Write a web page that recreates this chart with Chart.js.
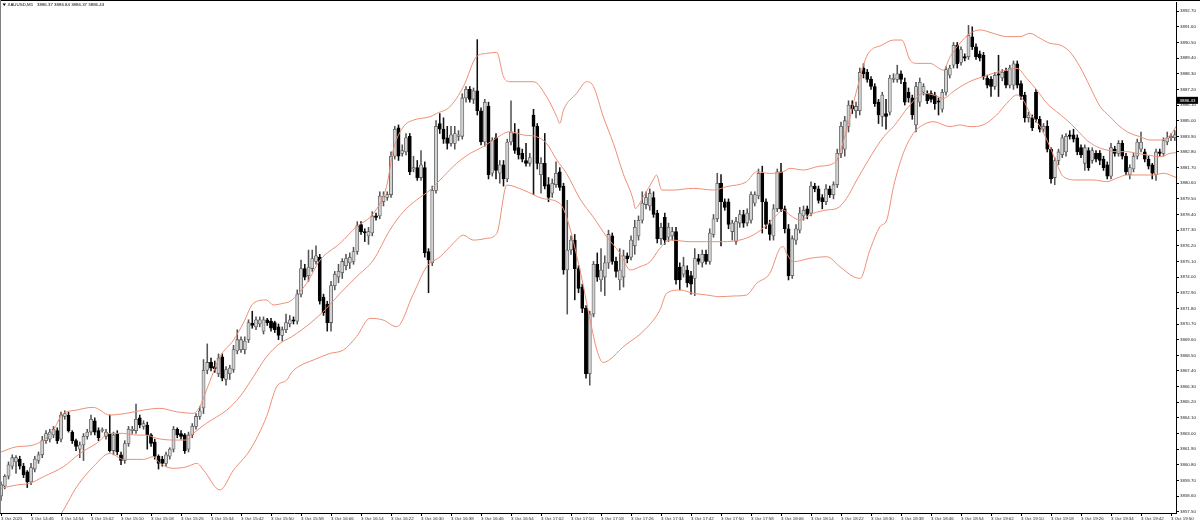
<!DOCTYPE html>
<html>
<head>
<meta charset="utf-8">
<title>XAUUSD,M1</title>
<script src="https://cdn.jsdelivr.net/npm/chart.js@4.4.1/dist/chart.umd.min.js"></script>
<style>
  html, body { margin: 0; padding: 0; background: #fff; }
  #wrap { width: 1200px; height: 525px; }
</style>
</head>
<body>
<div id="wrap"><canvas id="chart" width="1200" height="525"></canvas></div>
<script>
// XAUUSD M1 candles with Bollinger bands

const symbolName = 'XAUUSD,M1';
const headerValues = [3886.37, 3886.84, 3886.37, 3886.43];

const xTickIdx = [0, 8, 16, 24, 32, 40, 48, 56, 64, 72, 80, 88, 96, 104, 112, 120, 128, 136, 144, 152,
    160, 168, 176, 184, 192, 200, 208, 216, 224, 232, 240, 248, 256, 264, 272, 280, 288, 296, 304, 312];
const xTickLabels = ['3 Oct 2025', '3 Oct 14:46', '3 Oct 14:54', '3 Oct 15:02', '3 Oct 15:10', '3 Oct 15:18',
    '3 Oct 15:26', '3 Oct 15:34', '3 Oct 15:42', '3 Oct 15:50', '3 Oct 15:58', '3 Oct 16:06', '3 Oct 16:14',
    '3 Oct 16:22', '3 Oct 16:30', '3 Oct 16:38', '3 Oct 16:46', '3 Oct 16:54', '3 Oct 17:02', '3 Oct 17:10',
    '3 Oct 17:18', '3 Oct 17:26', '3 Oct 17:34', '3 Oct 17:42', '3 Oct 17:50', '3 Oct 17:58', '3 Oct 18:06',
    '3 Oct 18:14', '3 Oct 18:22', '3 Oct 18:30', '3 Oct 18:38', '3 Oct 18:46', '3 Oct 18:54', '3 Oct 19:02',
    '3 Oct 19:10', '3 Oct 19:18', '3 Oct 19:26', '3 Oct 19:34', '3 Oct 19:42', '3 Oct 19:50'];

const yTicks = [3857.50, 3858.60, 3859.70, 3860.80, 3861.90, 3863.00, 3864.10, 3865.20, 3866.30, 3867.40,
    3868.50, 3869.60, 3870.70, 3871.80, 3872.90, 3874.00, 3875.10, 3876.20, 3877.30, 3878.40, 3879.50,
    3880.60, 3881.70, 3882.80, 3883.90, 3885.00, 3886.10, 3887.20, 3888.30, 3889.40, 3890.50, 3891.60, 3892.70];

const opens = [
    3858.6, 3859.3, 3860.0, 3860.7, 3861.0, 3861.2, 3860.7, 3860.3, 3859.6, 3860.5,
    3861.1, 3861.5, 3862.5, 3862.6, 3862.9, 3863.2, 3862.6, 3864.2, 3864.3, 3863.1,
    3862.5, 3861.9, 3862.2, 3862.8, 3863.1, 3863.9, 3863.2, 3863.2, 3862.8, 3863.0,
    3861.8, 3863.0, 3861.5, 3861.1, 3862.3, 3863.2, 3863.2, 3864.1, 3863.5, 3863.6,
    3862.9, 3862.4, 3861.4, 3861.2, 3860.9, 3861.4, 3861.9, 3863.3, 3863.0, 3862.9,
    3861.9, 3862.9, 3863.5, 3864.2, 3864.8, 3867.45, 3868.0, 3867.7, 3867.2, 3868.4,
    3866.8, 3867.2, 3867.5, 3868.8, 3868.9, 3868.9, 3869.6, 3870.75, 3870.5, 3870.7,
    3870.2, 3871.0, 3870.9, 3870.8, 3870.5, 3869.9, 3870.3, 3870.7, 3871.0, 3870.9,
    3872.8, 3874.6, 3874.1, 3874.6, 3875.1, 3875.4, 3872.6, 3872.1, 3870.8, 3873.4,
    3874.0, 3874.3, 3874.8, 3875.0, 3875.1, 3875.8, 3877.7, 3877.2, 3876.9, 3877.1,
    3878.3, 3878.3, 3879.3, 3879.6, 3879.8, 3882.5, 3884.5, 3882.7, 3882.8, 3883.9,
    3881.6, 3881.7, 3881.0, 3881.7, 3875.8, 3875.0, 3880.1, 3884.8, 3884.4, 3883.8,
    3883.4, 3883.4, 3883.9, 3883.9, 3886.6, 3887.2, 3886.5, 3887.1, 3885.7, 3883.5,
    3886.0, 3881.3, 3883.8, 3881.3, 3881.9, 3880.9, 3883.5, 3884.1, 3883.1, 3882.7,
    3882.2, 3882.0, 3885.4, 3884.6, 3881.2, 3882.0, 3880.5, 3879.9, 3880.5, 3881.4,
    3880.4, 3874.5, 3875.9, 3876.6, 3874.6, 3873.3, 3871.8, 3867.2, 3871.4, 3874.9,
    3873.8, 3874.0, 3875.0, 3876.9, 3875.1, 3873.8, 3874.0, 3875.5, 3875.4, 3876.2,
    3876.9, 3878.0, 3879.1, 3879.0, 3879.6, 3878.5, 3876.7, 3878.2, 3876.8, 3876.9,
    3877.2, 3874.7, 3874.2, 3874.5, 3874.1, 3873.9, 3875.3, 3875.0, 3875.6, 3875.1,
    3877.0, 3878.1, 3880.6, 3879.3, 3879.3, 3877.2, 3876.5, 3877.8, 3878.4, 3877.8,
    3878.0, 3879.2, 3879.7, 3881.3, 3879.3, 3877.7, 3876.9, 3878.8, 3881.4, 3878.8,
    3877.4, 3874.1, 3876.6, 3877.3, 3878.3, 3878.8, 3878.5, 3880.4, 3880.2, 3879.6,
    3879.3, 3880.2, 3879.8, 3880.5, 3882.7, 3883.0, 3884.6, 3886.1, 3885.7, 3885.7,
    3888.7, 3888.4, 3887.9, 3887.4, 3886.3, 3885.3, 3885.5, 3885.6, 3887.9, 3887.9,
    3888.3, 3887.7, 3887.0, 3886.6, 3884.7, 3886.3, 3887.0, 3886.9, 3886.9, 3886.8,
    3886.4, 3885.8, 3887.0, 3888.2, 3888.9, 3890.3, 3889.1, 3889.5, 3889.5, 3890.9,
    3890.2, 3889.7, 3889.6, 3888.0, 3887.9, 3887.4, 3888.3, 3888.0, 3888.5, 3887.5,
    3887.5, 3889.0, 3887.6, 3886.8, 3885.2, 3885.2, 3887.0, 3885.1, 3884.4, 3884.6,
    3883.0, 3881.0, 3882.2, 3882.6, 3882.8, 3884.0, 3884.0, 3883.8, 3883.1, 3882.0,
    3882.9, 3882.2, 3882.7, 3882.7, 3882.3, 3881.9, 3881.1, 3883.0, 3882.7, 3883.4,
    3882.5, 3881.2, 3881.6, 3882.5, 3883.0, 3882.8, 3882.3, 3881.9, 3881.2, 3882.8,
    3882.7, 3883.5, 3883.8, 3883.8
];

const highs = [
    3859.6, 3860.1, 3861.0, 3861.5, 3861.45, 3861.4, 3860.9, 3860.4, 3860.9, 3861.4,
    3861.7, 3862.8, 3863.2, 3863.3, 3863.5, 3863.4, 3864.5, 3864.6, 3864.5, 3863.2,
    3862.6, 3862.4, 3863.0, 3863.3, 3864.3, 3864.1, 3863.4, 3863.4, 3863.3, 3864.3,
    3863.1, 3863.2, 3861.7, 3862.5, 3863.5, 3863.5, 3865.07, 3864.3, 3863.9, 3863.8,
    3863.0, 3862.6, 3861.5, 3861.4, 3861.7, 3862.0, 3863.5, 3863.4, 3863.2, 3863.0,
    3863.1, 3863.7, 3864.4, 3864.9, 3868.2, 3869.3, 3868.3, 3868.1, 3868.6, 3868.6,
    3867.7, 3867.8, 3869.2, 3870.3, 3869.8, 3869.8, 3871.0, 3871.6, 3871.2, 3871.2,
    3871.2, 3871.1, 3871.1, 3870.9, 3870.7, 3870.5, 3871.4, 3871.3, 3871.2, 3873.1,
    3875.2, 3874.9, 3875.9, 3875.9, 3876.2, 3875.6, 3872.8, 3872.3, 3873.7, 3874.4,
    3874.9, 3875.3, 3875.6, 3875.7, 3876.1, 3877.9, 3877.9, 3877.4, 3877.5, 3878.6,
    3878.5, 3880.0, 3880.0, 3880.0, 3882.8, 3884.6, 3884.7, 3883.3, 3884.1, 3884.1,
    3882.5, 3882.2, 3882.9, 3882.1, 3876.0, 3880.4, 3885.0, 3885.5, 3885.2, 3884.6,
    3884.6, 3884.6, 3884.3, 3886.9, 3887.4, 3887.4, 3887.3, 3890.7, 3885.9, 3886.5,
    3886.3, 3883.8, 3884.1, 3882.2, 3882.2, 3883.7, 3886.4, 3884.8, 3884.4, 3883.0,
    3883.4, 3882.7, 3885.8, 3884.8, 3882.4, 3884.1, 3881.0, 3880.9, 3882.1, 3881.7,
    3880.6, 3879.4, 3876.9, 3877.0, 3874.8, 3873.5, 3872.0, 3871.6, 3875.1, 3875.7,
    3876.0, 3875.5, 3877.3, 3877.1, 3875.4, 3876.0, 3875.9, 3875.7, 3876.9, 3878.0,
    3878.3, 3880.0, 3880.0, 3880.2, 3880.0, 3878.7, 3877.8, 3878.5, 3877.8, 3877.5,
    3877.5, 3875.0, 3875.4, 3874.8, 3874.4, 3876.0, 3875.6, 3875.9, 3875.9, 3877.4,
    3878.4, 3881.3, 3881.2, 3879.5, 3879.5, 3878.0, 3878.2, 3878.7, 3878.7, 3878.8,
    3880.0, 3880.0, 3881.6, 3881.8, 3879.5, 3878.0, 3879.1, 3881.6, 3882.0, 3879.0,
    3877.7, 3876.9, 3877.7, 3878.9, 3879.0, 3879.0, 3880.7, 3880.6, 3880.4, 3879.8,
    3880.5, 3880.4, 3880.7, 3883.0, 3884.9, 3885.3, 3886.4, 3886.4, 3886.3, 3888.7,
    3889.0, 3888.6, 3888.1, 3887.6, 3886.5, 3887.0, 3886.5, 3888.2, 3888.3, 3888.9,
    3888.5, 3888.0, 3887.3, 3886.8, 3887.7, 3888.0, 3887.6, 3887.1, 3887.1, 3887.0,
    3886.6, 3887.2, 3888.8, 3888.9, 3890.5, 3890.5, 3890.2, 3889.7, 3891.7, 3891.6,
    3890.4, 3889.9, 3889.8, 3888.2, 3888.1, 3888.4, 3889.6, 3888.6, 3888.7, 3888.9,
    3889.2, 3889.2, 3887.8, 3887.0, 3885.6, 3885.4, 3887.2, 3885.3, 3884.8, 3885.0,
    3883.1, 3882.4, 3883.0, 3884.0, 3884.1, 3884.3, 3884.4, 3884.0, 3883.3, 3883.3,
    3883.1, 3883.1, 3882.9, 3882.9, 3882.5, 3882.1, 3883.4, 3883.2, 3883.6, 3883.6,
    3882.7, 3881.9, 3882.7, 3883.7, 3884.2, 3883.0, 3882.5, 3882.0, 3883.0, 3883.0,
    3883.8, 3884.2, 3884.1, 3884.3
];

const lows = [
    3858.3, 3859.1, 3859.8, 3860.5, 3860.2, 3860.5, 3859.9, 3859.2, 3859.4, 3860.3,
    3860.9, 3861.3, 3862.3, 3862.4, 3862.7, 3862.3, 3862.4, 3864.0, 3863.1, 3862.3,
    3861.8, 3861.3, 3861.1, 3862.6, 3862.9, 3862.9, 3862.5, 3863.1, 3862.6, 3861.7,
    3861.5, 3861.5, 3860.8, 3860.9, 3862.1, 3863.0, 3863.0, 3863.4, 3863.3, 3861.9,
    3862.1, 3861.2, 3860.5, 3860.7, 3860.7, 3861.2, 3861.7, 3862.7, 3862.6, 3861.6,
    3861.7, 3862.7, 3863.3, 3864.0, 3864.4, 3867.2, 3867.4, 3867.3, 3867.0, 3866.7,
    3866.4, 3866.8, 3867.3, 3868.6, 3868.7, 3868.6, 3869.4, 3870.4, 3870.3, 3870.5,
    3870.0, 3870.6, 3870.2, 3870.1, 3869.6, 3869.5, 3870.1, 3870.5, 3870.7, 3870.7,
    3872.6, 3873.8, 3873.7, 3874.4, 3874.9, 3872.1, 3871.3, 3870.2, 3870.2, 3873.1,
    3873.6, 3873.9, 3874.5, 3874.6, 3874.9, 3875.6, 3877.0, 3876.5, 3876.3, 3876.9,
    3878.0, 3878.1, 3879.0, 3879.4, 3879.6, 3882.3, 3882.2, 3882.5, 3882.6, 3881.2,
    3881.4, 3880.8, 3880.8, 3875.4, 3872.9, 3874.8, 3879.9, 3884.1, 3883.4, 3883.0,
    3883.2, 3883.0, 3883.6, 3883.7, 3886.3, 3886.3, 3886.2, 3885.4, 3883.3, 3883.2,
    3880.9, 3881.1, 3880.9, 3880.6, 3880.4, 3880.7, 3883.3, 3882.7, 3882.3, 3882.1,
    3881.8, 3881.8, 3879.8, 3881.6, 3879.9, 3880.2, 3879.3, 3879.6, 3880.3, 3880.1,
    3874.2, 3871.4, 3875.6, 3872.4, 3872.9, 3871.5, 3866.9, 3866.4, 3871.2, 3873.7,
    3873.0, 3872.7, 3874.6, 3874.9, 3874.0, 3873.1, 3873.3, 3875.0, 3875.2, 3875.6,
    3876.6, 3877.8, 3878.8, 3878.7, 3878.2, 3876.4, 3876.3, 3876.3, 3876.5, 3876.6,
    3873.5, 3873.1, 3874.0, 3873.3, 3872.8, 3872.7, 3874.9, 3874.7, 3874.9, 3874.9,
    3876.8, 3877.9, 3876.2, 3878.7, 3877.4, 3876.6, 3876.3, 3877.5, 3877.5, 3877.6,
    3877.8, 3879.0, 3879.5, 3877.1, 3877.4, 3876.6, 3876.6, 3878.6, 3878.6, 3877.1,
    3873.8, 3873.9, 3876.3, 3877.1, 3878.0, 3878.1, 3878.3, 3880.0, 3879.2, 3878.8,
    3879.1, 3879.6, 3879.5, 3880.3, 3882.4, 3882.5, 3884.2, 3885.5, 3885.2, 3885.4,
    3888.0, 3887.7, 3887.2, 3886.0, 3884.8, 3884.6, 3884.4, 3885.4, 3887.7, 3887.7,
    3887.6, 3886.1, 3886.3, 3885.1, 3884.2, 3886.0, 3886.8, 3886.2, 3886.3, 3885.8,
    3885.4, 3885.6, 3886.8, 3888.0, 3888.7, 3888.7, 3888.9, 3889.2, 3889.3, 3890.0,
    3889.3, 3889.2, 3887.9, 3887.3, 3886.7, 3887.2, 3886.7, 3887.8, 3887.3, 3887.3,
    3887.2, 3887.3, 3886.5, 3884.9, 3884.9, 3884.3, 3884.9, 3884.2, 3884.2, 3882.8,
    3880.6, 3880.5, 3881.9, 3882.4, 3882.5, 3883.7, 3883.5, 3882.6, 3882.4, 3881.5,
    3881.5, 3882.0, 3882.1, 3881.9, 3881.5, 3880.9, 3880.9, 3882.5, 3882.5, 3882.3,
    3881.2, 3880.9, 3881.4, 3882.3, 3882.8, 3882.1, 3881.6, 3880.9, 3880.8, 3882.5,
    3882.5, 3883.3, 3883.6, 3883.6
];

const closes = [
    3859.4, 3860.0, 3860.8, 3861.3, 3861.3, 3860.7, 3860.1, 3859.6, 3860.6, 3861.2,
    3861.5, 3862.5, 3863.0, 3863.1, 3863.3, 3862.5, 3864.3, 3864.4, 3863.2, 3862.5,
    3862.1, 3862.2, 3862.8, 3863.1, 3864.0, 3863.1, 3862.7, 3863.25, 3863.1, 3861.8,
    3862.9, 3861.7, 3861.1, 3862.3, 3863.3, 3863.3, 3864.0, 3863.6, 3863.7, 3862.9,
    3862.3, 3861.4, 3860.9, 3860.9, 3861.5, 3861.9, 3863.3, 3862.9, 3862.8, 3861.8,
    3862.9, 3863.5, 3864.2, 3864.6, 3867.45, 3868.0, 3867.6, 3867.55, 3868.3, 3866.9,
    3867.5, 3867.6, 3868.9, 3869.6, 3869.6, 3869.5, 3870.8, 3870.6, 3871.0, 3871.0,
    3871.0, 3870.8, 3870.4, 3870.3, 3869.9, 3870.3, 3870.8, 3871.0, 3870.9, 3872.8,
    3874.6, 3874.0, 3874.7, 3875.3, 3875.5, 3872.3, 3871.5, 3870.8, 3873.4, 3874.2,
    3874.4, 3875.1, 3875.3, 3875.4, 3875.8, 3877.6, 3877.2, 3877.1, 3877.2, 3878.3,
    3878.2, 3879.7, 3879.7, 3879.8, 3882.5, 3884.4, 3882.5, 3882.9, 3883.8, 3881.4,
    3881.7, 3881.0, 3881.9, 3875.7, 3875.2, 3880.1, 3884.6, 3884.4, 3883.7, 3883.4,
    3884.0, 3884.1, 3884.0, 3886.6, 3887.2, 3886.5, 3887.1, 3885.7, 3883.5, 3886.3,
    3881.2, 3883.6, 3881.5, 3881.9, 3880.9, 3883.5, 3884.2, 3882.9, 3882.6, 3882.3,
    3882.0, 3882.4, 3884.6, 3882.0, 3882.0, 3880.4, 3879.6, 3880.6, 3881.3, 3880.3,
    3874.5, 3875.9, 3876.6, 3874.6, 3873.2, 3871.8, 3867.2, 3871.4, 3874.9, 3874.0,
    3874.5, 3875.0, 3877.0, 3875.1, 3874.4, 3874.5, 3875.5, 3875.3, 3876.6, 3877.5,
    3878.0, 3879.2, 3879.6, 3879.9, 3878.4, 3876.7, 3877.5, 3876.6, 3877.5, 3877.2,
    3873.8, 3873.8, 3874.8, 3873.6, 3873.5, 3875.3, 3875.1, 3875.6, 3875.1, 3877.1,
    3878.1, 3880.6, 3879.3, 3878.9, 3877.7, 3877.8, 3877.9, 3878.4, 3877.8, 3878.5,
    3879.8, 3879.8, 3881.3, 3879.3, 3877.7, 3877.0, 3878.8, 3881.4, 3878.8, 3877.4,
    3874.1, 3876.7, 3877.4, 3878.5, 3878.7, 3878.4, 3880.4, 3880.2, 3879.4, 3879.3,
    3880.2, 3879.8, 3880.5, 3882.7, 3884.6, 3885.0, 3886.1, 3885.8, 3886.0, 3888.4,
    3888.3, 3887.9, 3887.4, 3886.2, 3885.4, 3886.8, 3885.3, 3888.0, 3888.0, 3888.3,
    3887.9, 3886.3, 3886.6, 3885.4, 3887.4, 3887.7, 3887.4, 3886.4, 3886.5, 3886.2,
    3886.3, 3887.0, 3888.6, 3888.7, 3890.3, 3889.0, 3890.0, 3889.4, 3891.0, 3890.2,
    3889.5, 3889.4, 3888.1, 3887.5, 3887.4, 3888.2, 3888.2, 3888.4, 3887.5, 3888.7,
    3889.0, 3887.5, 3886.7, 3885.2, 3885.4, 3884.5, 3885.1, 3884.4, 3884.6, 3883.0,
    3880.9, 3882.2, 3882.8, 3883.8, 3883.9, 3883.9, 3883.7, 3882.8, 3882.6, 3883.1,
    3881.7, 3882.9, 3882.3, 3882.2, 3881.7, 3881.1, 3883.1, 3882.7, 3883.4, 3882.5,
    3881.4, 3881.7, 3882.5, 3883.5, 3883.5, 3882.3, 3881.8, 3881.3, 3882.8, 3882.7,
    3883.6, 3883.8, 3883.9, 3884.0
];

// Bollinger band lines, read as [candle index, price] points
const upperBand = [[0, 3861.7], [4.2, 3862.07], [8.6, 3862.19], [14, 3863.25], [16.2, 3864.3], [20.2, 3864.65],
    [24.6, 3864.84], [29, 3864.3], [33.5, 3864.42], [38, 3864.65], [42.4, 3864.77], [46.8, 3864.53],
    [51.3, 3864.42], [53, 3864.88], [54.8, 3866.06], [58.4, 3868.4], [62, 3869.57], [64.6, 3870.75],
    [67.3, 3872.16], [70.8, 3872.39], [72.6, 3872.04], [75.3, 3872.16], [77.1, 3872.3], [81.5, 3873.56],
    [85.1, 3875.2], [90.4, 3876.37], [94.8, 3877.54], [99.3, 3878.48], [102.8, 3880.35], [104.6, 3882.93],
    [107.3, 3884.57], [110, 3885.04], [114.4, 3885.28], [116.2, 3885.51], [119.7, 3885.98], [123.3, 3887.39],
    [126.8, 3889.5], [129.5, 3889.73], [132.2, 3889.8], [134, 3888.09], [135.7, 3887.74], [142, 3887.74],
    [145.5, 3886.68], [148.2, 3885.28], [149, 3884.81], [150, 3885.75], [153.5, 3886.92], [156.2, 3887.74],
    [158, 3887.4], [160.6, 3885.28], [163.3, 3883.4], [165.9, 3881.29], [168.6, 3879.42], [169.1, 3878.83],
    [171.3, 3879.65], [173.9, 3880.83], [174.8, 3881.18], [176.2, 3880.12], [179.3, 3880.12], [184.6, 3880.24],
    [190, 3880.12], [193.5, 3880.36], [198.8, 3880.71], [201.5, 3881.41], [205, 3881.29], [208.6, 3881.41],
    [210.4, 3881.65], [214, 3881.53], [217.5, 3881.76], [222, 3882.0], [222.9, 3882.23], [225.5, 3884.34],
    [228.2, 3887.15], [230.8, 3889.5], [232.6, 3890.08], [234.4, 3890.25], [238, 3890.67], [240.2, 3890.67],
    [242.4, 3889.27], [244.2, 3889.03], [247.7, 3889.03], [251.3, 3888.56], [253.1, 3889.5], [255.7, 3890.44],
    [258.4, 3891.14], [261.1, 3891.38], [264.6, 3891.14], [268.2, 3890.91], [271.7, 3890.91], [274.4, 3891.14],
    [277.1, 3890.79], [279.7, 3890.44], [282.4, 3890.32], [285, 3889.85], [287.7, 3888.8], [290.4, 3887.39],
    [293.1, 3885.99], [295.7, 3885.28], [298.4, 3884.58], [301.1, 3884.11], [303.7, 3883.88], [306.4, 3883.64],
    [309.1, 3883.64], [311.7, 3883.95], [313.4, 3884.6]];

const middleBand = [[0, 3859.15], [4.2, 3859.38], [7.7, 3859.5], [11.3, 3859.96], [16.6, 3860.66], [21.1, 3861.61],
    [25.5, 3862.31], [29.1, 3863.01], [32.6, 3863.01], [36.2, 3862.89], [38.8, 3862.89], [41.5, 3862.66],
    [46, 3862.54], [49.5, 3862.54], [51.3, 3863.01], [54.8, 3863.72], [60.2, 3864.65], [63.7, 3865.59],
    [67.3, 3866.99], [70.8, 3868.4], [74.4, 3869.34], [77.5, 3869.8], [82.4, 3870.74], [86.8, 3871.8],
    [90.4, 3872.85], [94.8, 3874.02], [99.3, 3875.2], [103.7, 3877.31], [107.3, 3878.6], [110.8, 3879.42],
    [114.4, 3880.12], [117.9, 3881.06], [121.5, 3882.0], [125.1, 3882.7], [128.6, 3883.17], [131.3, 3883.64],
    [135.7, 3884.22], [139.3, 3883.99], [142.8, 3883.87], [145.5, 3883.4], [148.2, 3882.23], [150.8, 3881.29],
    [154.4, 3879.5], [158, 3878.2], [161.5, 3876.84], [165.1, 3875.67], [167.8, 3874.5], [170.4, 3874.73],
    [173.1, 3875.08], [175.7, 3876.02], [178.4, 3876.61], [183.7, 3876.49], [188.2, 3876.49], [192.6, 3876.49],
    [197.1, 3876.61], [200.6, 3876.96], [204.2, 3877.66], [206.8, 3878.36], [208.6, 3878.72], [210.4, 3878.36],
    [213, 3878.01], [216.6, 3878.48], [220.2, 3878.72], [222.9, 3878.83], [225.5, 3879.54], [228.2, 3880.83],
    [230.8, 3882.0], [233.5, 3883.17], [235.5, 3883.9], [238, 3884.58], [242.4, 3886.1], [246, 3886.92],
    [248.6, 3886.81], [251.3, 3886.57], [253.9, 3887.04], [256.6, 3887.51], [259.3, 3887.86], [262, 3888.1],
    [264.6, 3888.33], [268.2, 3888.56], [270.9, 3888.68], [273.5, 3887.98], [276.2, 3887.16], [278.9, 3886.22],
    [281.5, 3885.63], [284.2, 3885.05], [286.9, 3884.35], [289.5, 3883.64], [292.2, 3883.17], [294.8, 3882.94],
    [297.5, 3882.82], [300.2, 3882.82], [302.9, 3882.7], [305.5, 3882.59], [309.1, 3882.47], [311.7, 3882.7],
    [313.4, 3882.75]];

const lowerBand = [[10, 3856.4], [15.7, 3857.27], [20.2, 3859.26], [24.6, 3860.66], [29.1, 3861.61], [32.6, 3861.18],
    [38, 3861.18], [40.6, 3861.37], [42.4, 3860.9], [46, 3860.55], [49.5, 3860.66], [52.2, 3860.9],
    [54, 3860.43], [58.4, 3859.03], [62, 3860.43], [66.4, 3861.84], [70.8, 3864.18], [73.5, 3866.29],
    [76.2, 3866.76], [77.5, 3867.3], [79.3, 3867.7], [83.3, 3868.17], [87.7, 3868.63], [91.3, 3868.87],
    [94.8, 3869.81], [98.4, 3871.1], [101.9, 3870.98], [105.5, 3870.51], [110, 3872.85], [113.5, 3874.73],
    [117.1, 3875.43], [120.6, 3876.37], [123.3, 3876.95], [125.9, 3876.6], [129.5, 3876.72], [132.2, 3877.07],
    [134.9, 3880.47], [139.3, 3880.12], [144.4, 3879.53], [149, 3879.18], [150.8, 3878.24], [154.4, 3874.49],
    [157.1, 3870.98], [158.9, 3868.87], [160.5, 3868.0], [166.4, 3869.2], [171.7, 3870.3], [175.7, 3871.68],
    [177.5, 3872.86], [181.1, 3873.09], [184.6, 3872.86], [188.2, 3872.74], [191.7, 3872.62], [195.3, 3872.67],
    [198.8, 3872.74], [201.5, 3873.56], [205, 3874.26], [207.7, 3876.02], [208.6, 3876.14], [209.5, 3875.67],
    [211.3, 3875.08], [215.7, 3875.32], [220.2, 3875.43], [223.7, 3874.73], [227.3, 3874.03], [229.1, 3873.91],
    [231.7, 3875.9], [234.4, 3877.54], [236.2, 3878.02], [238, 3880.36], [240.6, 3882.7], [243.3, 3884.11],
    [245.1, 3884.58], [248.6, 3884.93], [253.1, 3884.58], [255.7, 3884.7], [258.4, 3884.58], [261.9, 3884.7],
    [265.5, 3885.4], [268.2, 3886.22], [270.9, 3886.81], [272.6, 3886.45], [274.4, 3885.52], [277.1, 3884.58],
    [279.7, 3883.17], [281.5, 3882.0], [283.3, 3881.06], [286.9, 3880.83], [291.3, 3880.83], [294.8, 3880.71],
    [297.5, 3880.95], [300.2, 3881.18], [304.7, 3881.18], [307.3, 3881.18], [310, 3881.3], [313.4, 3881.0]];

const BAND_COLOR = '#ef8e76';
const AXIS_FONT = { family: '"Liberation Sans", Arial, sans-serif', size: 4.4 };

const isBull = opens.map((o, i) => closes[i] >= o);
const wickData = opens.map((o, i) => ({ x: i, y: [lows[i], highs[i]] }));
const bodyData = opens.map((o, i) => ({ x: i, y: [o, closes[i]] }));
const bodyFill = isBull.map(b => b ? '#d2d2d2' : '#000000');
const bodyEdge = isBull.map(b => b ? '#5a5a5a' : '#000000');
const wickColor = isBull.map(b => b ? '#555555' : '#111111');

function bandDataset(points) {
    return {
        type: 'line',
        data: points.map(p => ({ x: p[0], y: p[1] })),
        borderColor: BAND_COLOR,
        borderWidth: 1,
        pointRadius: 0,
        cubicInterpolationMode: 'monotone',
        order: 0
    };
}

// frame, header line and the current-price tag
const terminalDecor = {
    id: 'terminalDecor',
    afterDraw(chart) {
        const c = chart.ctx;
        const area = chart.chartArea;
        c.save();
        c.fillStyle = '#000';
        c.fillRect(0, 0, chart.width, 1);
        c.fillStyle = '#808080';
        c.fillRect(0, 0, 1, area.bottom);

        c.fillStyle = '#000';
        c.beginPath();
        c.moveTo(2.5, 3.6);
        c.lineTo(6, 3.6);
        c.lineTo(4.25, 6);
        c.closePath();
        c.fill();
        c.font = '4.4px "Liberation Sans", Arial, sans-serif';
        c.textBaseline = 'middle';
        c.fillText(symbolName, 7.5, 5);
        c.fillText(headerValues.map(v => v.toFixed(2)).join(' '), 37, 5);

        const last = headerValues[3];
        const py = chart.scales.y.getPixelForValue(last);
        c.fillRect(area.right + 1, py - 3.5, 21, 7);
        c.fillStyle = '#fff';
        c.fillText(last.toFixed(2), area.right + 3.5, py);
        c.restore();
    }
};

new Chart(document.getElementById('chart'), {
    type: 'bar',
    data: {
        datasets: [
            bandDataset(upperBand),
            bandDataset(middleBand),
            bandDataset(lowerBand),
            {
                data: bodyData,
                backgroundColor: bodyFill,
                borderColor: bodyEdge,
                borderWidth: 0.8,
                borderSkipped: false,
                barThickness: 3.2,
                minBarLength: 1,
                grouped: false,
                order: 1
            },
            {
                data: wickData,
                backgroundColor: wickColor,
                borderWidth: 0,
                barThickness: 0.9,
                grouped: false,
                order: 2
            }
        ]
    },
    options: {
        responsive: false,
        animation: false,
        events: [],
        layout: { padding: { top: 2, left: 0, right: 0, bottom: 0 } },
        plugins: {
            legend: { display: false },
            tooltip: { enabled: false }
        },
        scales: {
            x: {
                type: 'linear',
                min: -0.27,
                max: 313.33,
                offset: false,
                grid: { offset: false, drawOnChartArea: false, drawTicks: true, tickLength: 3, color: '#000' },
                border: { display: true, color: '#000', width: 1 },
                afterBuildTicks: scale => { scale.ticks = xTickIdx.map(v => ({ value: v })); },
                afterFit: scale => { scale.height = 12; scale.paddingLeft = 0; scale.paddingRight = 0; },
                ticks: {
                    autoSkip: false,
                    maxRotation: 0,
                    minRotation: 0,
                    align: 'start',
                    padding: 0,
                    color: '#222',
                    font: AXIS_FONT,
                    callback: (v, k) => xTickLabels[k]
                }
            },
            y: {
                type: 'linear',
                position: 'right',
                min: 3857.41,
                max: 3893.345,
                grid: { drawOnChartArea: false, drawTicks: true, tickLength: 3, color: '#000' },
                border: { display: true, color: '#000', width: 1 },
                afterBuildTicks: scale => { scale.ticks = yTicks.map(v => ({ value: v })); },
                afterFit: scale => { scale.width = 24; scale.paddingTop = 0; scale.paddingBottom = 0; },
                ticks: {
                    autoSkip: false,
                    padding: 1,
                    color: '#222',
                    font: AXIS_FONT,
                    callback: v => v.toFixed(2)
                }
            }
        }
    },
    plugins: [terminalDecor]
});
</script>
</body>
</html>
